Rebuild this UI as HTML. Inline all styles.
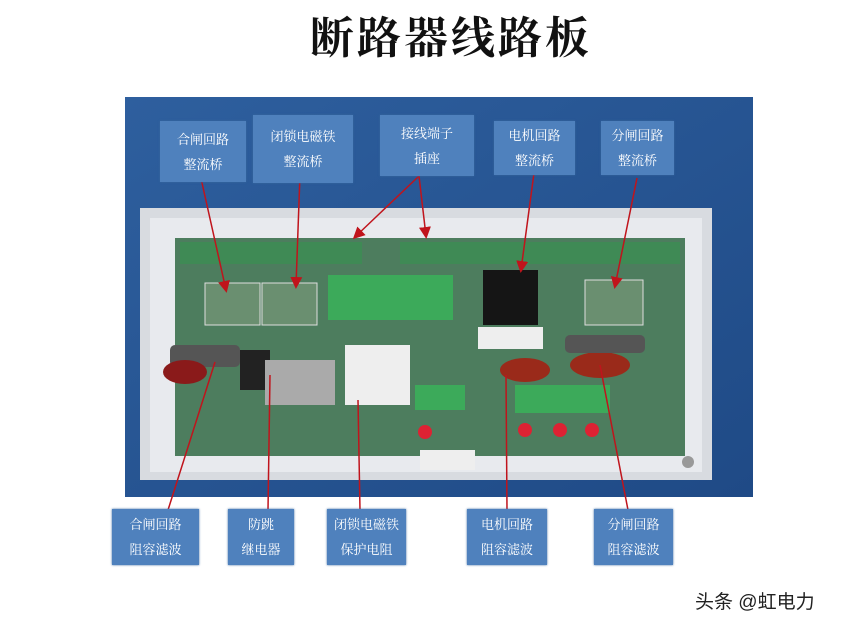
<!DOCTYPE html>
<html><head><meta charset="utf-8"><style>
body{margin:0;width:842px;height:627px;background:#fff;overflow:hidden;position:relative;font-family:"Liberation Serif","Noto Serif CJK SC",serif}
.t{position:absolute;left:0;width:842px;top:2px;text-align:center;font-size:44px;font-weight:bold;color:#111;letter-spacing:3px;padding-left:30px}
.lb{position:absolute;background:#4f81bd;color:#fff;font-size:13px;line-height:25px;text-align:center;display:flex;flex-direction:column;justify-content:center;box-shadow:0 0 2px #3a6aa0}
.wm{position:absolute;left:695px;top:587px;font-size:19px;color:#222;font-family:"Liberation Sans","Noto Sans CJK SC",sans-serif}
</style></head><body>
<div class="t">断路器线路板</div>
<svg width="842" height="627" style="position:absolute;left:0;top:0">
<defs><linearGradient id="bg" x1="0" y1="0" x2="1" y2="1"><stop offset="0" stop-color="#2e5f9e"/><stop offset="1" stop-color="#1f4a86"/></linearGradient>
<marker id="a" markerWidth="8" markerHeight="8" refX="6" refY="4" orient="auto"><path d="M0,0 L8,4 L0,8 Z" fill="#c0141c"/></marker></defs>
<rect x="125" y="97" width="628" height="400" fill="url(#bg)"/>
<rect x="140" y="208" width="572" height="272" fill="#d8dbe0"/>
<rect x="150" y="218" width="552" height="254" fill="#e8eaee"/>
<rect x="175" y="238" width="510" height="218" fill="#4d7d5e"/>
<rect x="180" y="242" width="182" height="22" fill="#3f8a55"/>
<rect x="400" y="242" width="280" height="22" fill="#3f8a55"/>
<rect x="205" y="283" width="55" height="42" fill="#6a8f70" stroke="#ddd"/>
<rect x="262" y="283" width="55" height="42" fill="#6a8f70" stroke="#ddd"/>
<rect x="585" y="280" width="58" height="45" fill="#6a8f70" stroke="#ddd"/>
<rect x="328" y="275" width="125" height="45" fill="#3caa5a"/>
<rect x="483" y="270" width="55" height="55" fill="#151515"/>
<rect x="478" y="327" width="65" height="22" fill="#eee"/>
<rect x="170" y="345" width="70" height="22" fill="#555" rx="5"/>
<ellipse cx="185" cy="372" rx="22" ry="12" fill="#8a1a1a"/>
<rect x="240" y="350" width="30" height="40" fill="#222"/>
<rect x="345" y="345" width="65" height="60" fill="#eee"/>
<rect x="265" y="360" width="70" height="45" fill="#aaa"/>
<ellipse cx="525" cy="370" rx="25" ry="12" fill="#9a2a1a"/>
<ellipse cx="600" cy="365" rx="30" ry="13" fill="#9a2a1a"/>
<rect x="565" y="335" width="80" height="18" fill="#555" rx="5"/>
<rect x="415" y="385" width="50" height="25" fill="#3caa5a"/>
<rect x="515" y="385" width="95" height="28" fill="#3caa5a"/>
<circle cx="425" cy="432" r="7" fill="#d23"/><circle cx="525" cy="430" r="7" fill="#d23"/><circle cx="560" cy="430" r="7" fill="#d23"/><circle cx="592" cy="430" r="7" fill="#d23"/>
<rect x="420" y="450" width="55" height="20" fill="#eee"/>
<circle cx="688" cy="462" r="6" fill="#999"/>
<g stroke="#c0141c" stroke-width="1.5" fill="none" marker-end="url(#a)">
<line x1="200" y1="174" x2="226" y2="290"/>
<line x1="300" y1="174" x2="296" y2="286"/>
<line x1="419" y1="176" x2="355" y2="237"/>
<line x1="419" y1="176" x2="426" y2="236"/>
<line x1="534" y1="173" x2="521" y2="270"/>
<line x1="637" y1="178" x2="615" y2="286"/>
<line x1="215" y1="362" x2="168" y2="510" marker-end="none"/>
<line x1="270" y1="375" x2="268" y2="510" marker-end="none"/>
<line x1="358" y1="400" x2="360" y2="510" marker-end="none"/>
<line x1="506" y1="375" x2="507" y2="510" marker-end="none"/>
<line x1="600" y1="365" x2="628" y2="510" marker-end="none"/>
</g>
</svg>
<div class="lb" style="left:160px;top:121px;width:86px;height:61px">合闸回路<br>整流桥</div>
<div class="lb" style="left:253px;top:115px;width:100px;height:68px">闭锁电磁铁<br>整流桥</div>
<div class="lb" style="left:380px;top:115px;width:94px;height:61px">接线端子<br>插座</div>
<div class="lb" style="left:494px;top:121px;width:81px;height:54px">电机回路<br>整流桥</div>
<div class="lb" style="left:601px;top:121px;width:73px;height:54px">分闸回路<br>整流桥</div>
<div class="lb" style="left:112px;top:509px;width:87px;height:56px">合闸回路<br>阻容滤波</div>
<div class="lb" style="left:228px;top:509px;width:66px;height:56px">防跳<br>继电器</div>
<div class="lb" style="left:327px;top:509px;width:79px;height:56px">闭锁电磁铁<br>保护电阻</div>
<div class="lb" style="left:467px;top:509px;width:80px;height:56px">电机回路<br>阻容滤波</div>
<div class="lb" style="left:594px;top:509px;width:79px;height:56px">分闸回路<br>阻容滤波</div>
<div class="wm">头条 @虹电力</div>
</body></html>
